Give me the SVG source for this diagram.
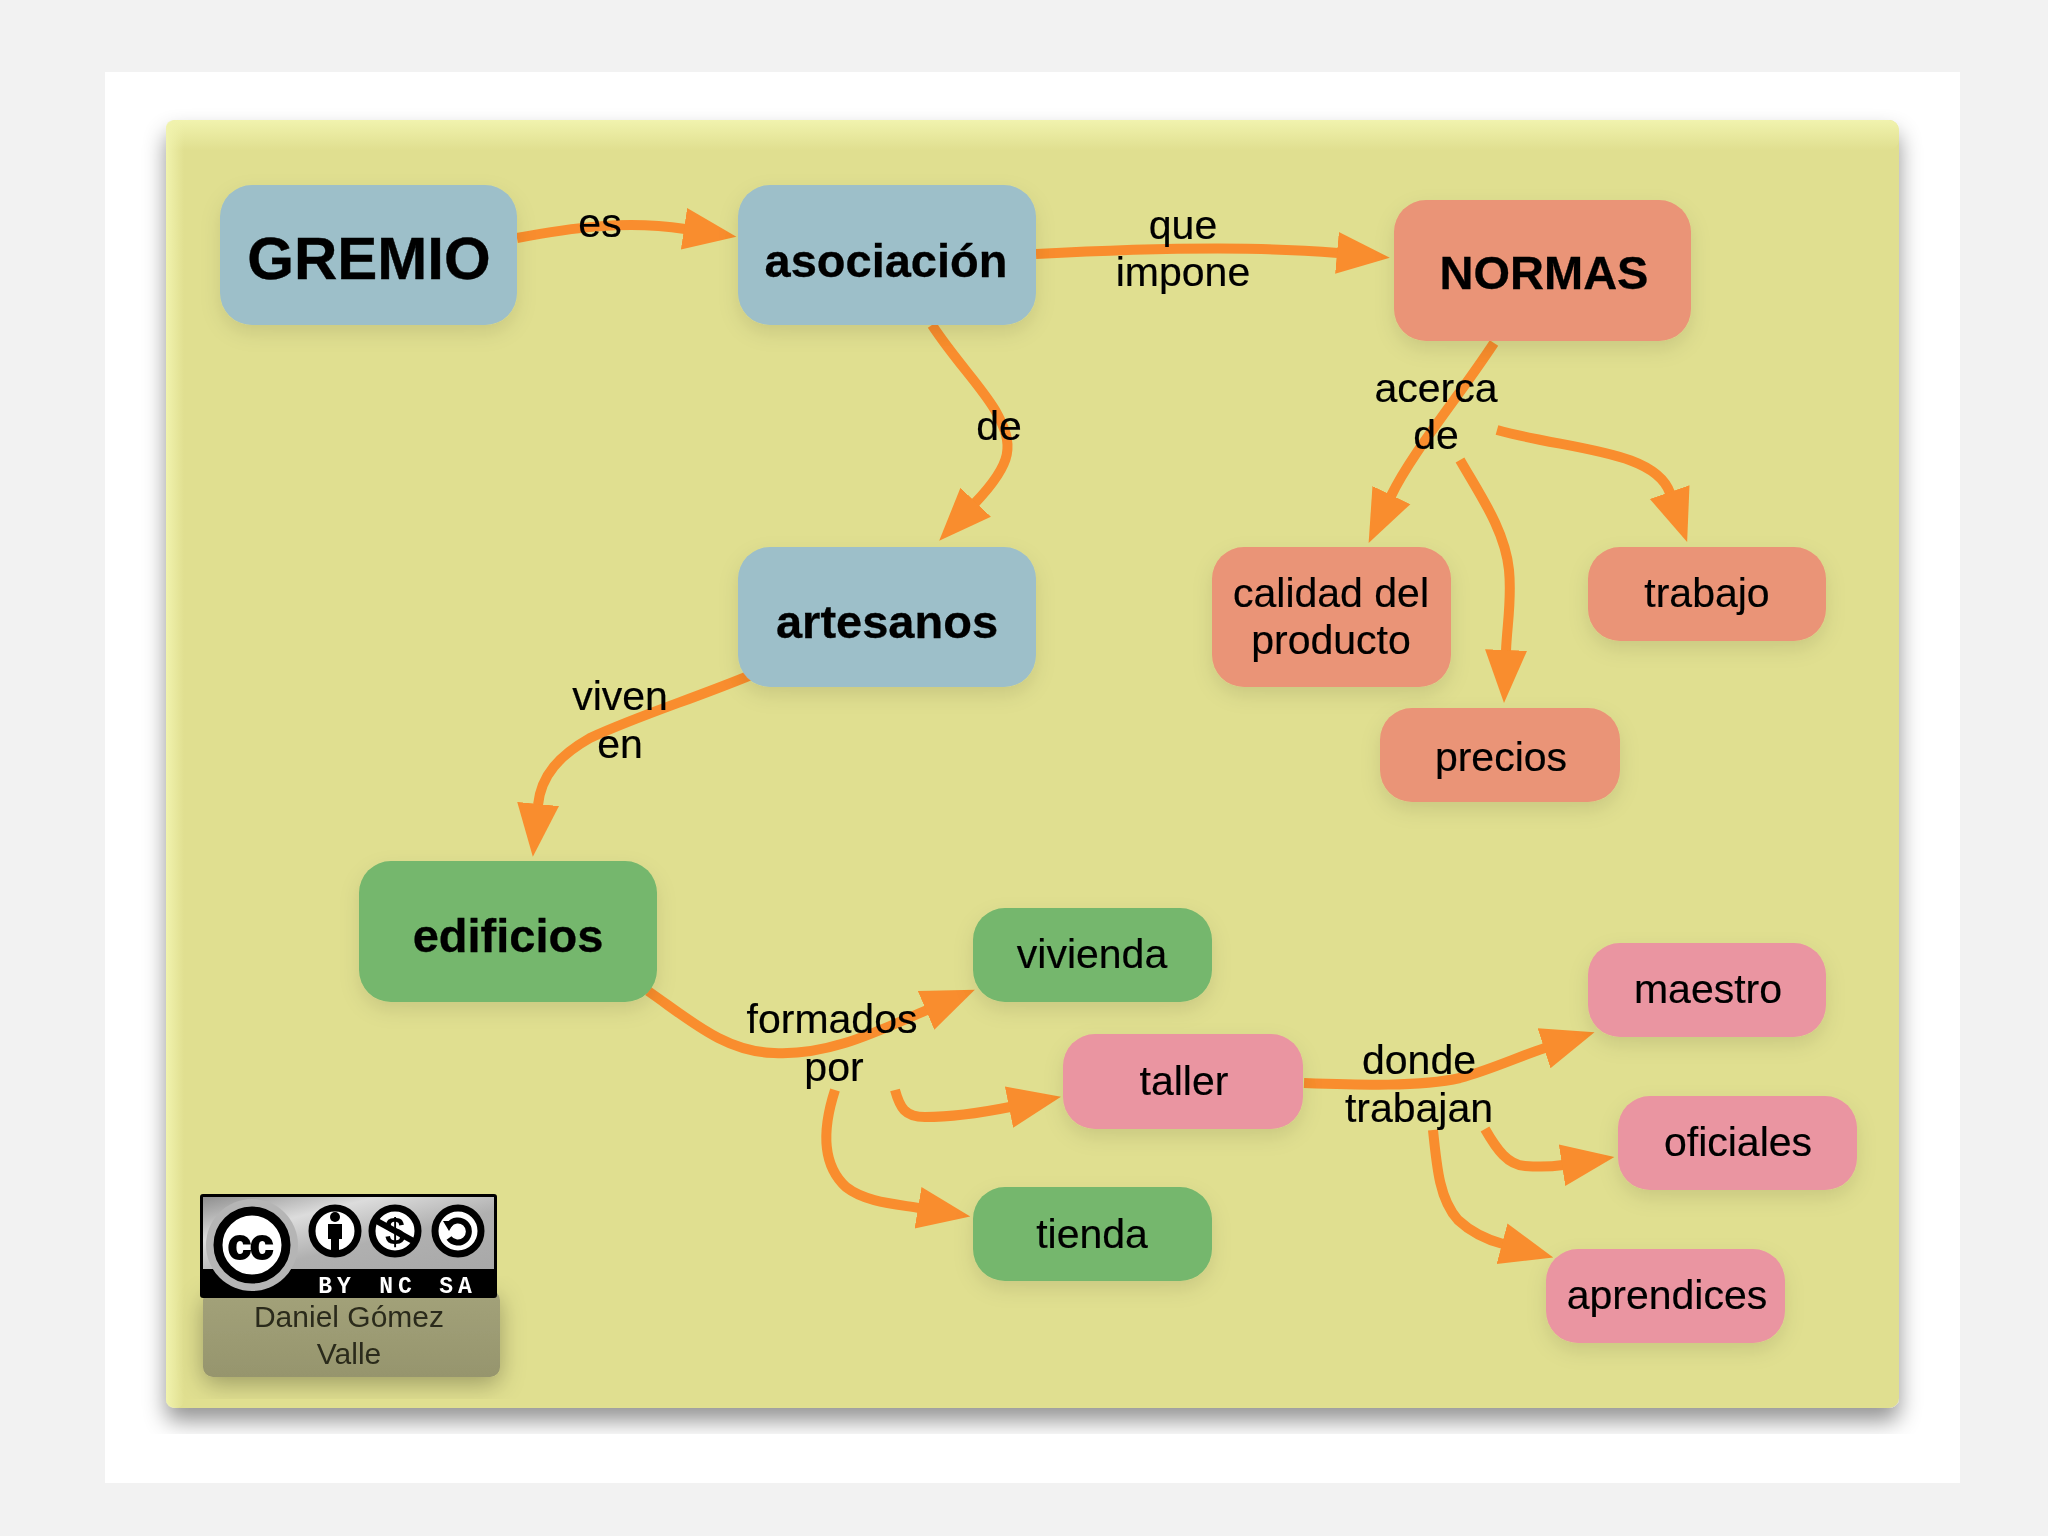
<svg xmlns="http://www.w3.org/2000/svg" width="2048" height="1536" viewBox="0 0 2048 1536">
<style>
.n{stroke:none;filter:url(#ns)}
.blue{fill:#9dbfc9}.sal{fill:#ea9477}.green{fill:#74b76d}.pink{fill:#ea95a1}
text{font-family:"Liberation Sans",Arial,sans-serif;text-anchor:middle;fill:#000}
.t{font-size:41px;stroke:#000;stroke-width:0.2px}
.b{font-size:47px;font-weight:bold;stroke:#000;stroke-width:0.3px}
.big{font-size:60px;font-weight:bold;stroke:#000;stroke-width:0.4px}
.c{fill:none;stroke:#f98d2d;stroke-width:10;stroke-linecap:butt;marker-end:url(#ah)}
.ic{fill:#fff;stroke:#000;stroke-width:7}
.bd{font-family:"Liberation Mono",monospace;font-size:23px;font-weight:bold;fill:#fff;letter-spacing:5px}
.au{font-size:30px;fill:#2c2c1a}
</style>
<defs>
<filter id="soft" x="-2%" y="-2%" width="104%" height="104%"><feGaussianBlur stdDeviation="0.7"/></filter>
<filter id="ns" x="-15%" y="-15%" width="130%" height="150%"><feDropShadow dx="0" dy="8" stdDeviation="10" flood-color="#000" flood-opacity="0.1"/></filter>
<filter id="ps" x="-5%" y="-5%" width="110%" height="110%"><feDropShadow dx="0" dy="13" stdDeviation="11" flood-color="#000" flood-opacity="0.42"/></filter>
<filter id="cs" x="-15%" y="-15%" width="130%" height="140%"><feDropShadow dx="0" dy="7" stdDeviation="12" flood-color="#000" flood-opacity="0.3"/></filter>
<linearGradient id="gt" x1="0" y1="0" x2="0" y2="1"><stop offset="0" stop-color="#f1f3ae"/><stop offset="1" stop-color="#f1f3ae" stop-opacity="0"/></linearGradient>
<linearGradient id="gl" x1="0" y1="0" x2="1" y2="0"><stop offset="0" stop-color="#f1f3ae"/><stop offset="1" stop-color="#f1f3ae" stop-opacity="0"/></linearGradient>
<linearGradient id="gb" x1="0" y1="0" x2="1" y2="1"><stop offset="0" stop-color="#8f8f8f"/><stop offset="0.3" stop-color="#dcdcdc"/><stop offset="0.6" stop-color="#b0b0b0"/><stop offset="1" stop-color="#a8a8a8"/></linearGradient>
<linearGradient id="ga" x1="0" y1="0" x2="0" y2="1"><stop offset="0" stop-color="#a3a27a"/><stop offset="1" stop-color="#96956d"/></linearGradient>
<marker id="ah" markerUnits="userSpaceOnUse" markerWidth="60" markerHeight="48" refX="1" refY="24" orient="auto"><path d="M0 3L53 24L0 45Z" fill="#f98d2d"/></marker>
<clipPath id="bc"><rect x="203" y="1197" width="291" height="98"/></clipPath>
</defs>
<rect width="2048" height="1536" fill="#f2f2f2"/>
<rect x="105" y="72" width="1855" height="1411" fill="#fff"/>
<g filter="url(#soft)">
<g id="panel">
<rect x="166" y="120" width="1733" height="1288" rx="10" fill="#e0df90" filter="url(#ps)"/>
<rect x="166" y="120" width="1733" height="30" rx="10" fill="url(#gt)"/>
<rect x="166" y="120" width="18" height="1288" rx="8" fill="url(#gl)"/>
</g>
<g id="connectors">
<path class="c" d="M517 238C570 228 625 220 685 229"/>
<path class="c" d="M1036 254C1150 248 1260 246 1338 253"/>
<path class="c" d="M932 325C955 360 980 385 995 410C1015 445 1013 463 975 503"/>
<path class="c" d="M751 675C690 700 640 715 590 738C560 755 541 775 538 805"/>
<path class="c" d="M648 991C690 1020 725 1052 774 1053C830 1056 880 1030 927 1010"/>
<path class="c" d="M895 1090C900 1108 905 1117 925 1117C950 1117 985 1112 1010 1107"/>
<path class="c" d="M835 1090C822 1130 822 1165 846 1187C865 1202 895 1204 919 1208"/>
<path class="c" d="M1304 1083C1360 1085 1420 1087 1460 1078C1490 1070 1520 1056 1545 1048"/>
<path class="c" d="M1485 1129C1497 1150 1508 1165 1525 1166C1538 1167 1550 1167 1563 1165"/>
<path class="c" d="M1433 1130C1437 1170 1440 1200 1458 1220C1472 1233 1488 1240 1503 1244"/>
<path class="c" d="M1494 343C1460 395 1411 454 1391 496"/>
<path class="c" d="M1497 430C1570 450 1655 450 1670 493"/>
<path class="c" d="M1460 460C1480 495 1505 530 1509 570C1512 600 1507 625 1506 651"/>
<text class="t" x="600" y="237">es</text>
<text class="t" x="1183" y="239">que</text>
<text class="t" x="1183" y="286">impone</text>
<text class="t" x="999" y="440">de</text>
<text class="t" x="1436" y="402">acerca</text>
<text class="t" x="1436" y="449">de</text>
<text class="t" x="620" y="710">viven</text>
<text class="t" x="620" y="758">en</text>
<text class="t" x="832" y="1033">formados</text>
<text class="t" x="834" y="1081">por</text>
<text class="t" x="1419" y="1074">donde</text>
<text class="t" x="1419" y="1122">trabajan</text>
</g>
<g id="gremio"><rect class="n blue" x="220" y="185" width="297" height="140" rx="32"/><text class="big" x="369" y="279">GREMIO</text></g>
<g id="asociacion"><rect class="n blue" x="738" y="185" width="298" height="140" rx="32"/><text class="b" x="886" y="277">asociación</text></g>
<g id="normas"><rect class="n sal" x="1394" y="200" width="297" height="141" rx="32"/><text class="b" x="1544" y="289">NORMAS</text></g>
<g id="artesanos"><rect class="n blue" x="738" y="547" width="298" height="140" rx="32"/><text class="b" x="887" y="638">artesanos</text></g>
<g id="edificios"><rect class="n green" x="359" y="861" width="298" height="141" rx="32"/><text class="b" x="508" y="952">edificios</text></g>
<g id="calidad"><rect class="n sal" x="1212" y="547" width="239" height="140" rx="32"/><text class="t" x="1331" y="607">calidad del</text><text class="t" x="1331" y="654">producto</text></g>
<g id="trabajo"><rect class="n sal" x="1588" y="547" width="238" height="94" rx="32"/><text class="t" x="1707" y="607">trabajo</text></g>
<g id="precios"><rect class="n sal" x="1380" y="708" width="240" height="94" rx="32"/><text class="t" x="1501" y="771">precios</text></g>
<g id="vivienda"><rect class="n green" x="973" y="908" width="239" height="94" rx="32"/><text class="t" x="1092" y="968">vivienda</text></g>
<g id="taller"><rect class="n pink" x="1063" y="1034" width="240" height="95" rx="32"/><text class="t" x="1184" y="1095">taller</text></g>
<g id="tienda"><rect class="n green" x="973" y="1187" width="239" height="94" rx="32"/><text class="t" x="1092" y="1248">tienda</text></g>
<g id="maestro"><rect class="n pink" x="1588" y="943" width="238" height="94" rx="32"/><text class="t" x="1708" y="1003">maestro</text></g>
<g id="oficiales"><rect class="n pink" x="1618" y="1096" width="239" height="94" rx="32"/><text class="t" x="1738" y="1156">oficiales</text></g>
<g id="aprendices"><rect class="n pink" x="1546" y="1249" width="239" height="94" rx="32"/><text class="t" x="1667" y="1309">aprendices</text></g>
<g id="license">
<rect x="203" y="1290" width="297" height="87" rx="10" fill="url(#ga)" filter="url(#cs)"/>
<rect x="200" y="1194" width="297" height="104" rx="3" fill="#000"/>
<rect x="203" y="1197" width="291" height="72" fill="url(#gb)"/>
<g clip-path="url(#bc)">
<circle cx="252" cy="1245" r="46" fill="#b5b5b5"/>
<circle cx="252" cy="1245" r="34" fill="#fff" stroke="#000" stroke-width="9"/>
</g>
<text x="250" y="1259" style="font-size:42px;font-weight:bold;fill:#000;stroke:#000;stroke-width:2px;letter-spacing:-1px">cc</text>
<circle class="ic" cx="335" cy="1231" r="23"/>
<circle cx="335" cy="1217" r="5" fill="#000"/><rect x="328" y="1224" width="14" height="15" fill="#000"/><rect x="331" y="1238" width="8" height="13" fill="#000"/>
<circle class="ic" cx="395" cy="1231" r="23"/>
<text x="395" y="1244" style="font-size:36px;font-weight:bold;fill:#000">$</text>
<path d="M375 1220L415 1242" stroke="#000" stroke-width="6"/>
<circle class="ic" cx="458" cy="1231" r="23"/>
<path d="M449 1225A11 11 0 1 1 449 1238" fill="none" stroke="#000" stroke-width="6"/>
<path d="M443 1221L455 1221L449 1231Z" fill="#000"/>
<text class="bd" x="337" y="1293">BY</text>
<text class="bd" x="398" y="1293">NC</text>
<text class="bd" x="458" y="1293">SA</text>
<text class="au" x="349" y="1327">Daniel Gómez</text>
<text class="au" x="349" y="1364">Valle</text>
</g>
</g>
</svg>
